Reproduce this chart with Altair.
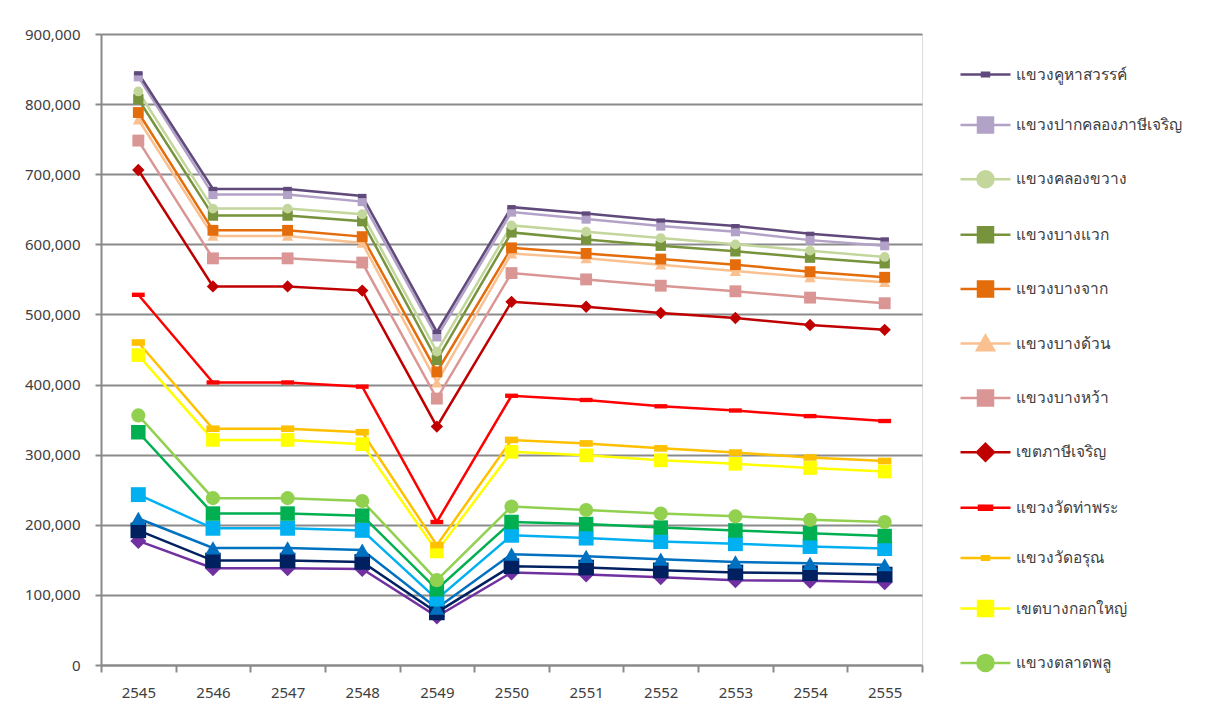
import altair as alt
import pandas as pd

# ---------------- data ----------------
years = [2545, 2546, 2547, 2548, 2549, 2550, 2551, 2552, 2553, 2554, 2555]

series_names = [
    "แขวงคูหาสวรรค์",
    "แขวงปากคลองภาษีเจริญ",
    "แขวงคลองขวาง",
    "แขวงบางแวก",
    "แขวงบางจาก",
    "แขวงบางด้วน",
    "แขวงบางหว้า",
    "เขตภาษีเจริญ",
    "แขวงวัดท่าพระ",
    "แขวงวัดอรุณ",
    "เขตบางกอกใหญ่",
    "แขวงตลาดพลู",
    "แขวงดาวคะนอง",
    "แขวงบุคคโล",
    "แขวงสำเหร่",
    "แขวงบางยี่เรือ",
    "แขวงวัดกัลยาณ์",
]

v_khuha = [844000, 679000, 679000, 669000, 475000, 653000, 644000, 634000, 626000, 615000, 607000]
v_pakkhlong = [839000, 671000, 671000, 661000, 468000, 646000, 636000, 626000, 618000, 606000, 598000]
v_khlongkhwang = [818000, 651000, 651000, 643000, 447000, 627000, 618000, 609000, 600000, 591000, 582000]
v_bangwaek = [807000, 641000, 641000, 633000, 435000, 617000, 607000, 598000, 590000, 581000, 573000]
v_bangchak = [788000, 620000, 620000, 611000, 418000, 595000, 587000, 579000, 571000, 561000, 553000]
v_bangduan = [778000, 612000, 612000, 602000, 403000, 587000, 580000, 571000, 562000, 553000, 546000]
v_bangwa = [748000, 580000, 580000, 574000, 380000, 559000, 550000, 541000, 533000, 524000, 516000]
v_phasicharoen = [706000, 540000, 540000, 534000, 340000, 518000, 511000, 502000, 495000, 485000, 478000]
v_watthapra = [528000, 403000, 403000, 397000, 204000, 384000, 378000, 369000, 363000, 355000, 348000]
v_watarun = [460000, 337000, 337000, 332000, 171000, 321000, 316000, 309000, 303000, 296000, 291000]
v_bangkokyai = [442000, 321000, 321000, 315000, 162000, 304000, 299000, 292000, 287000, 281000, 276000]
v_talatphlu = [356000, 238000, 238000, 234000, 121000, 226000, 221000, 216000, 212000, 207000, 204000]
v_daokhanong = [332000, 216000, 216000, 213000, 108000, 204000, 201000, 196000, 192000, 188000, 184000]
v_bukkhalo = [243000, 195000, 195000, 192000, 94000, 185000, 181000, 176000, 173000, 169000, 166000]
v_samre = [209000, 167000, 167000, 164000, 81000, 158000, 155000, 151000, 147000, 145000, 143000]
v_bangyiruea = [192000, 149000, 149000, 147000, 75000, 141000, 139000, 135000, 132000, 131000, 129000]
v_watkanlaya = [177000, 138000, 138000, 137000, 69000, 132000, 129000, 125000, 121000, 120000, 118000]

all_values = [
    v_khuha, v_pakkhlong, v_khlongkhwang, v_bangwaek, v_bangchak, v_bangduan,
    v_bangwa, v_phasicharoen, v_watthapra, v_watarun, v_bangkokyai, v_talatphlu,
    v_daokhanong, v_bukkhalo, v_samre, v_bangyiruea, v_watkanlaya,
]

y_ticks = [0, 100000, 200000, 300000, 400000, 500000, 600000, 700000, 800000, 900000]

# ---------------- styles ----------------
colors = [
    "#604A7B", "#B3A2C7", "#C3D69B", "#77933C", "#E46C0A", "#FAC090",
    "#D99694", "#C00000", "#FF0000", "#FFC000", "#FFFF00", "#92D050",
    "#00B050", "#00B0F0", "#0070C0", "#002060", "#7030A0",
]

DASH_S = "M-1,-0.5H1V0.5H-1Z"
DASH_L = "M-1,-0.34H1V0.34H-1Z"
marker_shapes = [
    DASH_S, "square", "circle", "square", "square", "triangle-up",
    "square", "diamond", DASH_L, DASH_S, "square", "circle",
    "square", "square", "triangle-up", "square", "diamond",
]
marker_sizes = [
    72, 256, 256, 256, 256, 289,
    256, 340, 230, 81, 256, 256,
    256, 256, 289, 256, 340,
]

LINE = "M-1,0H1"
L_SQ = LINE + "M-0.3,-0.3H0.3V0.3H-0.3Z"
L_CI = LINE + "M-0.32,0A0.32,0.32,0,1,0,0.32,0A0.32,0.32,0,1,0,-0.32,0Z"
L_TR = LINE + "M0,-0.32L0.34,0.27L-0.34,0.27Z"
L_DI = LINE + "M0,-0.34L0.34,0L0,0.34L-0.34,0Z"
L_DS = LINE + "M-0.14,-0.07H0.14V0.07H-0.14Z"
L_DL = LINE + "M-0.26,-0.08H0.26V0.08H-0.26Z"
legend_shapes = [L_DS, L_SQ, L_CI, L_SQ, L_SQ, L_TR, L_SQ, L_DI, L_DL, L_DS, L_SQ, L_CI]

N_LEGEND = 12
FONT = "Noto Sans"
TEXT = "#404040"
GRID = "#8a8a8a"

# ---------------- table ----------------
rows = []
for i in reversed(range(len(series_names))):
    for yr, val in zip(years, all_values[i]):
        rows.append({"series": series_names[i], "year": yr, "value": val})
df = pd.DataFrame(rows)

x_edges = [years[0] - 0.5] + [y + 0.5 for y in years]
x_axis_values = sorted(years + x_edges)

x_enc = alt.X(
    "year:Q",
    scale=alt.Scale(domain=[x_edges[0], x_edges[-1]], nice=False, zero=False),
    axis=alt.Axis(
        values=x_axis_values,
        labelExpr="datum.value % 1 === 0 ? format(datum.value, 'd') : ''",
        tickOpacity={"condition": {"test": "datum.value % 1 === 0", "value": 0}, "value": 1},
        grid=False,
        title=None,
        domainColor=GRID,
        domainWidth=2,
        tickColor=GRID,
        tickWidth=2,
        tickSize=7,
        labelPadding=13,
        labelFontSize=15,
        labelColor=TEXT,
        labelFont=FONT,
        labelFlush=False,
        labelOverlap=False,
        labelBound=False,
    ),
)

y_enc = alt.Y(
    "value:Q",
    scale=alt.Scale(domain=[0, 900000], nice=False),
    axis=alt.Axis(
        values=y_ticks,
        format=",d",
        grid=True,
        gridColor=GRID,
        gridWidth=1.8,
        domainColor=GRID,
        domainWidth=2,
        tickColor=GRID,
        tickWidth=2,
        tickSize=6,
        labelPadding=15,
        labelFontSize=15,
        labelColor=TEXT,
        labelFont=FONT,
        title=None,
    ),
)

color_scale = alt.Scale(domain=series_names, range=colors)

lines = alt.Chart(df).mark_line(strokeWidth=2.5).encode(
    x=x_enc,
    y=y_enc,
    color=alt.Color("series:N", scale=color_scale, legend=None),
    detail="series:N",
)

points = alt.Chart(df).mark_point(filled=True, opacity=1).encode(
    x=x_enc,
    y=y_enc,
    color=alt.Color("series:N", scale=color_scale, legend=None),
    shape=alt.Shape("series:N", scale=alt.Scale(domain=series_names, range=marker_shapes), legend=None),
    size=alt.Size("series:N", scale=alt.Scale(domain=series_names, range=marker_sizes), legend=None),
)

leg = alt.Legend(
    title=None,
    orient="none",
    legendX=858,
    legendY=14,
    padding=0,
    rowPadding=15.4,
    labelOffset=4,
    labelFontSize=15.5,
    labelFont=FONT,
    labelColor=TEXT,
    labelLimit=400,
    symbolSize=2500,
    symbolStrokeWidth=2.5,
    symbolOpacity=1,
)

names12 = series_names[:N_LEGEND]
colors12 = colors[:N_LEGEND]

legend_layer = alt.Chart(df).transform_filter("false").mark_point(
    filled=True, size=2500, strokeWidth=2.5
).encode(
    x=x_enc,
    y=y_enc,
    fill=alt.Fill("series:N", scale=alt.Scale(domain=names12, range=colors12), legend=leg),
    stroke=alt.Stroke("series:N", scale=alt.Scale(domain=names12, range=colors12), legend=leg),
    shape=alt.Shape("series:N", scale=alt.Scale(domain=names12, range=legend_shapes), legend=leg),
)

chart = (
    alt.layer(lines, points, legend_layer)
    .resolve_scale(shape="independent", fill="independent", stroke="independent", size="independent")
    .properties(
        width=821,
        height=631,
        autosize=alt.AutoSizeParams(type="none"),
        padding={"left": 93, "top": 26, "right": 276, "bottom": 40},
        background="white",
    )
    .configure_view(stroke="transparent")
    .configure(font=FONT)
)

chart.save("out.html", embed_options={"renderer": "svg", "actions": False})
